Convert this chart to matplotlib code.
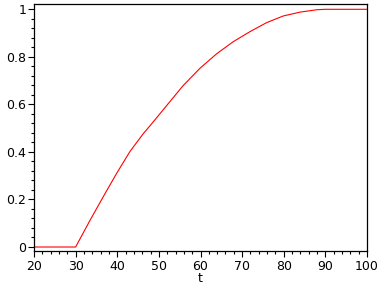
import matplotlib
matplotlib.use("Agg")
import matplotlib.pyplot as plt
from matplotlib.ticker import MultipleLocator

t_vals = [20, 30, 33.45, 36.65, 39.86, 43.06, 46.26, 47.87, 49.47, 51.07, 52.67,
          55.88, 59.88, 63.89, 67.89, 71.89, 75.9, 79.9, 83.9, 87.9, 90, 100]
y_vals = [0, 0, 0.112, 0.212, 0.310, 0.402, 0.477, 0.510, 0.544, 0.578, 0.612,
          0.680, 0.752, 0.813, 0.864, 0.906, 0.944, 0.972, 0.988, 0.998, 1.0, 1.0]
x_ticks = [20, 30, 40, 50, 60, 70, 80, 90, 100]
y_ticks = [0, 0.2, 0.4, 0.6, 0.8, 1]
y_tick_labels = ["0", "0.2", "0.4", "0.6", "0.8", "1"]

plt.rcParams['font.family'] = ['DejaVu Sans']

W, H = 388, 288
fig = plt.figure(figsize=(W / 100, H / 100), dpi=100)
left, right, top, bottom = 34, 367, 4.3, 251
ax = fig.add_axes([left / W, 1 - bottom / H, (right - left) / W, (bottom - top) / H])

ax.plot(t_vals, y_vals, color='#ff0000', lw=0.8)
ax.set_xlim(20, 100)
ax.set_ylim(-0.0168, 1.021)

ax.set_xticks(x_ticks)
ax.set_xticklabels([str(v) for v in x_ticks])
ax.set_yticks(y_ticks)
ax.set_yticklabels(y_tick_labels)
ax.xaxis.set_minor_locator(MultipleLocator(2))
ax.yaxis.set_minor_locator(MultipleLocator(0.04))

ax.tick_params(which='major', direction='out', length=4, width=0.8, labelsize=9, colors='black', pad=2.5)
ax.tick_params(which='minor', direction='out', length=2.2, width=0.8)
ax.tick_params(axis='y', which='major', pad=1.5)

for s in ax.spines.values():
    s.set_color('black')
    s.set_linewidth(0.9)

ax.set_xlabel('t', fontsize=9, labelpad=-1)

fig.savefig('out.png', dpi=100)
